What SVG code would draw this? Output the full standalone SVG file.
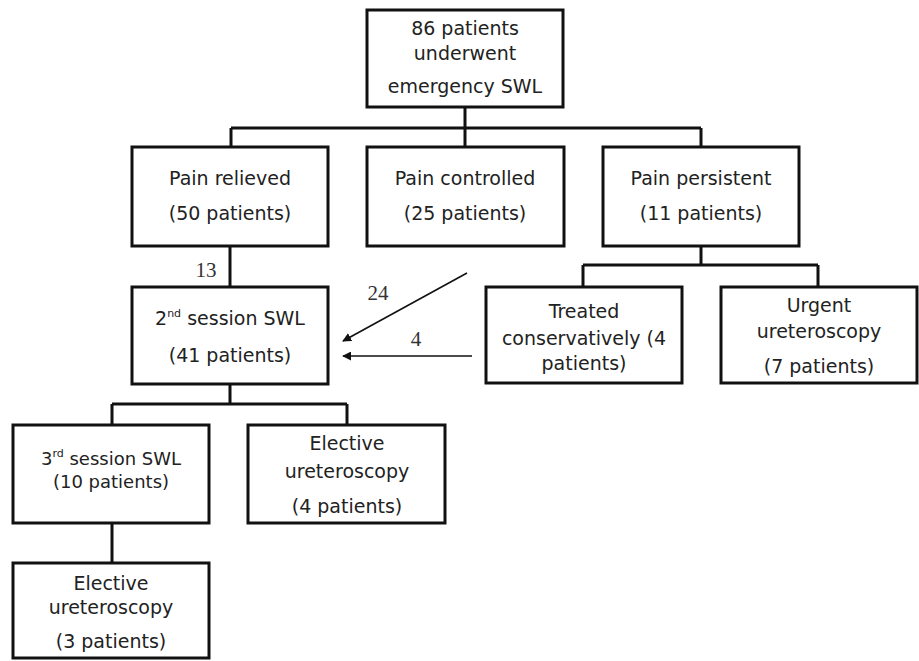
<svg xmlns="http://www.w3.org/2000/svg" width="919" height="661" viewBox="0 0 919 661">
<defs>
<style>
.box{fill:#fff;stroke:#111;stroke-width:3}
.t{font-family:"DejaVu Sans",Verdana,sans-serif;font-size:19px;fill:#222;text-anchor:middle}
.sm{font-size:18px}
.s{font-size:11px}
.lbl{font-family:"Liberation Serif","Times New Roman",serif;font-size:21px;fill:#333;text-anchor:middle}
.c{fill:none;stroke:#111;stroke-width:3}
.a{fill:none;stroke:#111;stroke-width:1.6;marker-end:url(#ah)}
</style>
<marker id="ah" viewBox="0 0 10 10" refX="9" refY="5" markerWidth="9" markerHeight="9" markerUnits="userSpaceOnUse" orient="auto">
<path d="M0,0 L10,5 L0,10 z" fill="#111"/>
</marker>
</defs>
<rect width="919" height="661" fill="#fff"/>
<g id="connectors">
<path class="c" d="M465,107 V128 M231,128 H701 M231,128 V147 M465,128 V147 M701,128 V147"/>
<path class="c" d="M230,246 V287"/>
<path class="c" d="M701,246 V265 M583,265 H818 M583,265 V287 M818,265 V287"/>
<path class="c" d="M230,384 V404 M112,404 H347 M112,404 V425 M347,404 V425"/>
<path class="c" d="M112,523 V563"/>
<line class="a" x1="467" y1="273" x2="343" y2="341"/>
<line class="a" x1="472" y1="356" x2="343" y2="356"/>
<text class="lbl" x="206" y="277">13</text>
<text class="lbl" x="378" y="300">24</text>
<text class="lbl" x="416" y="346">4</text>
</g>
<g id="n86">
<rect class="box" x="367" y="10" width="196" height="97"/>
<text class="t" x="465" y="35">86 patients</text>
<text class="t" x="465" y="60">underwent</text>
<text class="t" x="465" y="93">emergency SWL</text>
</g>
<g id="relieved">
<rect class="box" x="132" y="147" width="196" height="99"/>
<text class="t" x="230" y="185">Pain relieved</text>
<text class="t" x="230" y="220">(50 patients)</text>
</g>
<g id="controlled">
<rect class="box" x="367" y="147" width="197" height="99"/>
<text class="t" x="465" y="185">Pain controlled</text>
<text class="t" x="465" y="220">(25 patients)</text>
</g>
<g id="persistent">
<rect class="box" x="603" y="147" width="196" height="99"/>
<text class="t" x="701" y="185">Pain persistent</text>
<text class="t" x="701" y="220">(11 patients)</text>
</g>
<g id="second">
<rect class="box" x="132" y="287" width="196" height="97"/>
<text class="t" x="230" y="325">2<tspan class="s" dy="-8">nd</tspan><tspan dy="8"> session SWL</tspan></text>
<text class="t" x="230" y="362">(41 patients)</text>
</g>
<g id="conservative">
<rect class="box" x="486" y="287" width="196" height="96"/>
<text class="t" x="584" y="318">Treated</text>
<text class="t" x="584" y="345">conservatively (4</text>
<text class="t" x="584" y="370">patients)</text>
</g>
<g id="urgent">
<rect class="box" x="721" y="287" width="196" height="96"/>
<text class="t" x="819" y="312">Urgent</text>
<text class="t" x="819" y="338">ureteroscopy</text>
<text class="t" x="819" y="373">(7 patients)</text>
</g>
<g id="third">
<rect class="box" x="13" y="425" width="196" height="98"/>
<text class="t sm" x="111" y="465">3<tspan class="s" dy="-8">rd</tspan><tspan dy="8"> session  SWL</tspan></text>
<text class="t sm" x="111" y="488">(10 patients)</text>
</g>
<g id="elective1">
<rect class="box" x="248" y="425" width="197" height="98"/>
<text class="t" x="347" y="450">Elective</text>
<text class="t" x="347" y="478">ureteroscopy</text>
<text class="t" x="347" y="513">(4 patients)</text>
</g>
<g id="elective2">
<rect class="box" x="13" y="563" width="196" height="95"/>
<text class="t" x="111" y="590">Elective</text>
<text class="t" x="111" y="614">ureteroscopy</text>
<text class="t" x="111" y="648">(3 patients)</text>
</g>
</svg>
